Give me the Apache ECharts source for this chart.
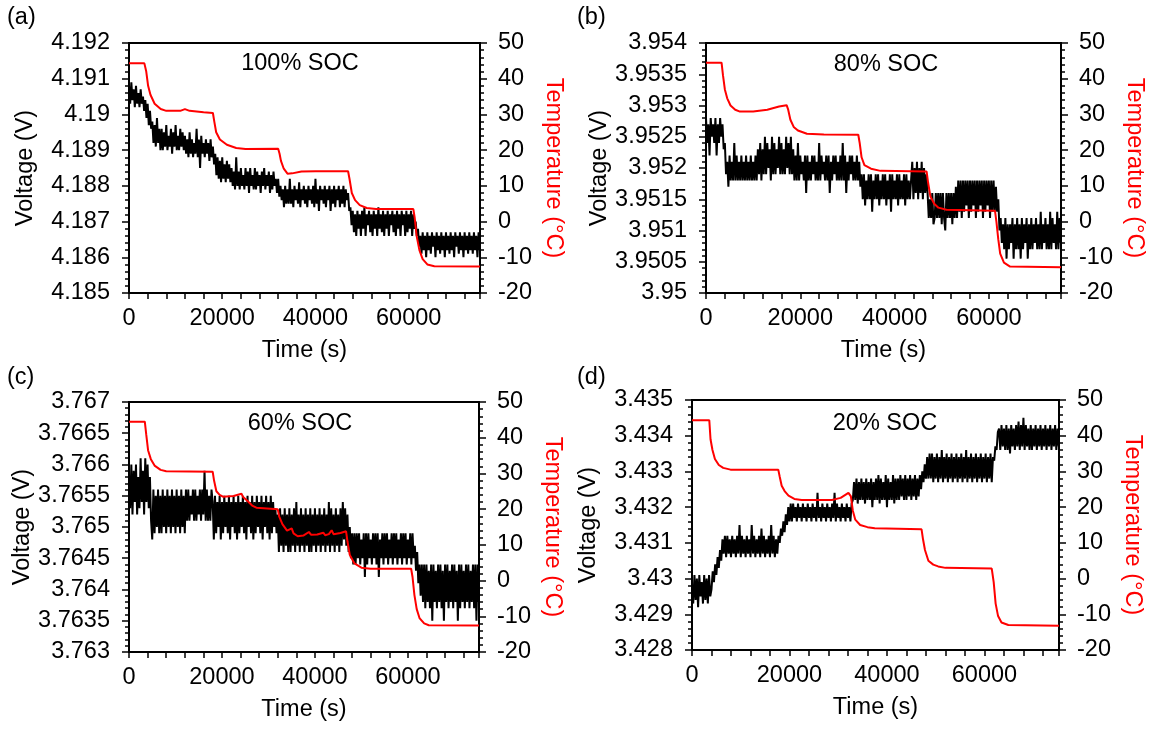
<!DOCTYPE html>
<html><head><meta charset="utf-8">
<script src="https://cdn.jsdelivr.net/npm/echarts/dist/echarts.min.js"></script>
<style>html,body{margin:0;padding:0;background:#fff}#c{width:1149px;height:729px}</style>
</head><body><div id="c"></div>
<script>
// ---------- data ----------
const panelLabels = ['(a)', '(b)', '(c)', '(d)'];
const socLabels = ['100% SOC', '80% SOC', '60% SOC', '20% SOC'];
const xTickLabels = [0, 20000, 40000, 60000];
const tempTicks = [-20, -10, 0, 10, 20, 30, 40, 50];

// time grid of voltage samples (s)
const timeV = [
  0,250,500,750,1000,1250,1500,1750,2000,2250,2500,2750,3000,3250,3500,3750,4000,4250,4500,4750,
  5000,5250,5500,5750,6000,6250,6500,6750,7000,7250,7500,7750,8000,8250,8500,8750,9000,9250,9500,9750,
  10000,10250,10500,10750,11000,11250,11500,11750,12000,12250,12500,12750,13000,13250,13500,13750,14000,14250,14500,14750,
  15000,15250,15500,15750,16000,16250,16500,16750,17000,17250,17500,17750,18000,18250,18500,18750,19000,19250,19500,19750,
  20000,20250,20500,20750,21000,21250,21500,21750,22000,22250,22500,22750,23000,23250,23500,23750,24000,24250,24500,24750,
  25000,25250,25500,25750,26000,26250,26500,26750,27000,27250,27500,27750,28000,28250,28500,28750,29000,29250,29500,29750,
  30000,30250,30500,30750,31000,31250,31500,31750,32000,32250,32500,32750,33000,33250,33500,33750,34000,34250,34500,34750,
  35000,35250,35500,35750,36000,36250,36500,36750,37000,37250,37500,37750,38000,38250,38500,38750,39000,39250,39500,39750,
  40000,40250,40500,40750,41000,41250,41500,41750,42000,42250,42500,42750,43000,43250,43500,43750,44000,44250,44500,44750,
  45000,45250,45500,45750,46000,46250,46500,46750,47000,47250,47500,47750,48000,48250,48500,48750,49000,49250,49500,49750,
  50000,50250,50500,50750,51000,51250,51500,51750,52000,52250,52500,52750,53000,53250,53500,53750,54000,54250,54500,54750,
  55000,55250,55500,55750,56000,56250,56500,56750,57000,57250,57500,57750,58000,58250,58500,58750,59000,59250,59500,59750,
  60000,60250,60500,60750,61000,61250,61500,61750,62000,62250,62500,62750,63000,63250,63500,63750,64000,64250,64500,64750,
  65000,65250,65500,65750,66000,66250,66500,66750,67000,67250,67500,67750,68000,68250,68500,68750,69000,69250,69500,69750,
  70000,70250,70500,70750,71000,71250,71500,71750,72000,72250,72500,72750,73000,73250,73500,73750,74000,74250,74500,74750,
  75000,75250
];

// (a) 100% SOC voltage (V)
const voltA = [
  4.1908,4.1903,4.1909,4.1904,4.1907,4.1902,4.1908,4.1903,4.1906,4.1902,4.1907,4.1903,4.1905,4.1901,
  4.1904,4.1899,4.1903,4.1897,4.1901,4.1896,
  4.1898,4.1892,4.1897,4.1891,4.1899,4.1892,4.1896,4.1890,
  4.1896,4.1890,4.1895,4.1891,4.1897,4.1890,4.1894,4.1891,4.1896,4.1889,4.1895,4.1891,4.1897,4.1890,4.1894,4.1890,4.1896,4.1891,4.1895,4.1890,
  4.1894,4.1889,4.1893,4.1888,4.1895,4.1889,4.1893,4.1888,4.1892,4.1889,4.1896,4.1888,4.1893,4.1885,4.1894,4.1889,4.1892,4.1888,4.1893,4.1889,4.1892,4.1887,4.1893,4.1888,
  4.1891,4.1886,4.1889,4.1883,4.1888,4.1882,4.1887,4.1881,4.1888,4.1882,4.1886,4.1881,4.1887,4.1882,4.1886,4.1881,
  4.1885,4.1880,4.1884,4.1879,4.1888,4.1880,4.1884,4.1879,4.1885,4.1880,4.1883,4.1879,4.1885,4.1880,4.1884,4.1878,4.1885,4.1880,4.1883,4.1879,
  4.1885,4.1879,4.1884,4.1880,4.1883,4.1878,4.1884,4.1880,4.1885,4.1879,4.1883,4.1880,4.1884,4.1878,4.1883,4.1879,4.1884,4.1880,4.1882,4.1878,
  4.1882,4.1877,
  4.1880,4.1876,4.1879,4.1874,4.1880,4.1875,4.1879,4.1875,4.1882,4.1875,4.1879,4.1874,4.1880,4.1876,4.1879,4.1875,4.1881,4.1874,4.1879,4.1876,
  4.1880,4.1875,4.1879,4.1874,4.1880,4.1876,4.1879,4.1875,4.1880,4.1874,4.1882,4.1875,4.1879,4.1873,4.1880,4.1876,4.1879,4.1875,4.1880,4.1874,
  4.1879,4.1876,4.1880,4.1873,4.1879,4.1875,4.1880,4.1874,4.1879,4.1876,4.1880,4.1874,4.1879,4.1875,4.1880,4.1874,4.1879,4.1876,4.1878,4.1873,
  4.1874,4.1869,4.1873,4.1867,4.1872,4.1866,4.1873,4.1868,4.1872,4.1866,4.1873,4.1868,4.1874,4.1866,4.1872,4.1869,4.1873,4.1867,4.1872,4.1866,
  4.1873,4.1868,4.1872,4.1866,4.1874,4.1868,4.1872,4.1867,4.1873,4.1866,4.1872,4.1868,4.1873,4.1866,4.1872,4.1869,4.1873,4.1867,4.1872,4.1866,
  4.1873,4.1868,4.1872,4.1866,4.1873,4.1869,4.1872,4.1866,4.1873,4.1867,4.1872,4.1868,4.1873,4.1866,4.1872,4.1868,
  4.1870,4.1866,4.1868,4.1863,
  4.1866,4.1861,4.1867,4.1862,4.1866,4.1860,4.1867,4.1862,4.1866,4.1861,4.1867,4.1863,4.1866,4.1860,4.1867,4.1862,4.1866,4.1861,4.1867,4.1862,
  4.1866,4.1860,4.1867,4.1862,4.1866,4.1861,4.1867,4.1862,4.1866,4.1860,4.1867,4.1863,4.1866,4.1861,4.1867,4.1862,4.1866,4.1860,4.1867,4.1862,
  4.1866,4.1861,4.1867,4.1862,4.1866,4.1861,4.1867,4.1862,4.1866,4.1860,4.1867,4.1862
];

// (b) 80% SOC voltage (V)
const voltB = [
  3.9528,3.9524,3.9527,3.9522,3.9528,3.9525,3.9527,3.9524,3.9528,3.9522,3.9527,3.9524,3.9528,3.9525,3.9527,3.9523,
  3.9524,3.9519,3.9521,3.9517,
  3.9522,3.9518,3.9521,3.9518,3.9524,3.9518,3.9522,3.9518,3.9521,3.9518,3.9522,3.9518,3.9521,3.9518,3.9522,3.9518,3.9521,3.9518,3.9522,3.9518,
  3.9521,3.9518,3.9522,3.9518,
  3.9523,3.9519,3.9524,3.9518,3.9523,3.9519,3.9525,3.9519,3.9524,3.9520,3.9523,3.9518,3.9525,3.9519,3.9524,3.9519,
  3.9523,3.9520,3.9525,3.9519,3.9524,3.9519,3.9523,3.9519,3.9525,3.9520,3.9524,3.9519,3.9525,3.9519,3.9523,3.9518,
  3.9522,3.9518,3.9524,3.9518,3.9522,3.9519,3.9521,3.9518,3.9522,3.9516,3.9522,3.9518,3.9521,3.9518,3.9522,3.9519,3.9522,3.9518,3.9521,3.9518,
  3.9524,3.9518,3.9522,3.9519,3.9521,3.9518,3.9522,3.9518,3.9522,3.9516,3.9521,3.9518,3.9522,3.9519,3.9522,3.9518,3.9521,3.9518,3.9522,3.9518,
  3.9524,3.9518,3.9522,3.9516,3.9521,3.9518,3.9522,3.9519,3.9522,3.9518,3.9521,3.9518,3.9522,3.9518,3.9521,3.9517,
  3.9519,3.9515,3.9519,3.9514,3.9518,3.9515,3.9519,3.9515,3.9519,3.9513,3.9518,3.9515,3.9519,3.9515,3.9519,3.9514,3.9518,3.9515,3.9519,3.9515,
  3.9519,3.9514,3.9518,3.9515,3.9519,3.9513,3.9519,3.9515,3.9518,3.9515,3.9519,3.9514,3.9519,3.9515,3.9518,3.9515,3.9519,3.9514,3.9519,3.9515,
  3.9518,3.9515,
  3.9515,3.9521,3.9515,3.9520,3.9516,3.9521,3.9515,3.9520,3.9516,3.9521,3.9515,3.9520,3.9516,3.9519,
  3.9516,3.9512,3.9515,3.9512,3.9516,3.9511,
  3.9512,3.9516,3.9512,3.9516,3.9512,3.9516,3.9511,3.9516,3.9512,3.9510,3.9516,3.9512,3.9516,3.9512,3.9516,3.9511,3.9516,3.9512,3.9517,3.9512,
  3.9518,3.9513,3.9518,3.9512,3.9518,3.9513,3.9518,3.9514,3.9518,3.9512,3.9518,3.9513,3.9518,3.9514,3.9518,3.9512,
  3.9518,3.9513,3.9518,3.9514,3.9518,3.9512,3.9518,3.9513,3.9518,3.9514,3.9518,3.9512,3.9518,3.9513,3.9518,3.9513,
  3.9517,3.9513,3.9515,3.9510,3.9512,3.9508,
  3.9511,3.9507,3.9512,3.95055,3.9511,3.9507,3.9511,3.9508,3.9512,3.95055,3.9511,3.9507,3.9512,3.9507,3.9511,3.95055,3.9512,3.9507,3.9511,3.9508,
  3.9512,3.95055,3.9511,3.9507,3.9512,3.9507,3.9511,3.9508,3.9512,3.9507,3.9511,3.9507,3.9513,3.9507,3.9511,3.9508,3.9512,3.9507,3.9511,3.9507,
  3.9513,3.9507,3.9512,3.9508,3.9511,3.9507,3.9513,3.9507,3.9512,3.9508
];

// (c) 60% SOC voltage (V)
const voltC = [
  3.7658,3.7653,3.7660,3.7652,3.7659,3.7654,3.7660,3.7652,3.7658,3.7653,3.7661,3.7654,3.7659,3.7652,3.7661,3.7654,3.7660,3.7653,
  3.7658,3.7651,
  3.7648,3.7656,3.7649,3.7655,3.7650,3.7656,3.7649,3.7655,3.7649,3.7656,3.7650,3.7655,3.7649,3.7656,3.7650,3.7655,3.7649,3.7656,3.7650,3.7655,
  3.7649,3.7656,3.7650,3.7655,3.7649,3.7656,3.7650,3.7655,3.7649,3.7656,
  3.7651,3.7656,3.7651,3.7655,3.7652,3.7656,3.7651,3.7656,3.7651,3.7655,3.7652,3.7656,3.7651,3.7656,3.7652,3.7659,3.7651,3.7656,3.7651,3.7655,
  3.7651,3.7656,
  3.7654,3.7648,3.7655,3.7649,3.7654,3.7650,3.7655,3.7648,3.7654,3.7649,3.7655,3.7650,3.7654,3.7649,3.7655,3.7648,3.7654,3.7650,3.7655,3.7649,
  3.7654,3.7648,3.7655,3.7649,3.7654,3.7650,3.7655,3.7649,3.7654,3.7648,3.7655,3.7650,3.7654,3.7649,3.7655,3.7648,3.7654,3.7649,3.7655,3.7650,
  3.7654,3.7649,3.7655,3.7648,3.7654,3.7650,3.7655,3.7649,3.7654,3.7648,3.7655,3.7649,3.7654,3.7650,3.7653,3.7649,
  3.7652,3.7646,3.7653,3.7647,3.7652,3.7646,3.7653,3.7647,3.7652,3.7646,3.7653,3.7646,3.7652,3.7647,3.7653,3.7646,3.7654,3.7647,3.7652,3.7646,
  3.7653,3.7647,3.7652,3.7646,3.7653,3.7647,3.7652,3.7646,3.7653,3.7646,3.7652,3.7647,3.7653,3.7646,3.7652,3.7647,3.7653,3.7646,3.7652,3.7647,
  3.7653,3.7646,3.7652,3.7647,3.7654,3.7646,3.7653,3.7647,3.7652,3.7646,3.7653,3.7647,3.7652,3.7646,3.7653,3.7647,3.7654,3.7648,3.7653,3.7647,
  3.7652,3.7646,3.7650,3.7645,3.7649,3.7644,
  3.7649,3.7644,3.7649,3.7645,3.7649,3.7644,3.7648,3.7645,3.7649,3.7642,3.7649,3.7644,3.7649,3.7645,3.7648,3.7644,3.7649,3.7645,3.7649,3.7644,
  3.7649,3.7642,3.7648,3.7645,3.7649,3.7644,3.7649,3.7645,3.7649,3.7644,3.7648,3.7645,3.7649,3.7644,3.7649,3.7645,3.7649,3.7644,3.7648,3.7645,
  3.7649,3.7644,3.7649,3.7645,3.7649,3.7644,3.7648,3.7645,3.7649,3.7644,3.7649,3.7645,
  3.7647,3.7643,3.7646,3.7641,3.7644,3.7639,3.7644,3.7638,
  3.7644,3.7637,3.7644,3.7638,3.7643,3.7637,3.7644,3.7635,3.7644,3.7638,3.7643,3.7637,3.7644,3.7638,3.7644,3.7637,3.7643,3.7635,3.7644,3.7638,
  3.7644,3.7637,3.7643,3.7638,3.7644,3.7637,3.7644,3.7638,3.7643,3.7635,3.7644,3.7637,3.7644,3.7638,3.7643,3.7637,3.7644,3.7638,3.7644,3.7637,
  3.7643,3.7638,3.7644,3.7637,3.7644,3.7635,3.7644,3.7638
];

// (d) 20% SOC voltage (V)
const voltD = [
  3.4298,3.4293,3.4301,3.4294,3.4300,3.4292,3.4301,3.4295,3.4299,3.4293,3.4301,3.4294,3.4300,3.4293,3.4301,3.4295,
  3.4297,3.4302,3.4299,3.4304,3.4301,3.4306,3.4303,3.4308,
  3.4305,3.4311,3.4307,3.4312,3.4306,3.4312,3.4307,3.4311,3.4306,3.4312,3.4307,3.4311,3.4306,3.4312,3.4307,3.4315,3.4306,3.4312,3.4307,3.4311,
  3.4306,3.4312,3.4307,3.4311,3.4306,3.4315,3.4307,3.4312,3.4306,3.4311,3.4307,3.4312,3.4306,3.4314,3.4307,3.4312,3.4306,3.4311,3.4307,3.4312,
  3.4306,3.4315,3.4307,3.4312,3.4306,3.4311,3.4307,3.4312,
  3.4310,3.4314,3.4312,3.4316,3.4313,3.4318,3.4315,3.4320,3.4316,3.4321,
  3.4316,3.4321,3.4317,3.4320,3.4316,3.4321,3.4317,3.4320,3.4316,3.4321,3.4317,3.4320,3.4316,3.4321,3.4317,3.4320,3.4316,3.4321,3.4317,3.4320,
  3.4316,3.4324,3.4317,3.4320,3.4316,3.4321,3.4317,3.4320,3.4316,3.4321,3.4317,3.4320,3.4316,3.4321,3.4317,3.4324,3.4316,3.4321,3.4317,3.4320,
  3.4316,3.4321,3.4317,3.4320,3.4316,3.4321,3.4317,3.4320,3.4316,3.4321,
  3.4322,3.4327,3.4322,3.4328,3.4321,3.4327,3.4322,3.4328,3.4322,3.4327,3.4321,3.4328,3.4322,3.4327,3.4322,3.4328,3.4320,3.4327,3.4322,3.4328,
  3.4322,3.4329,3.4321,3.4328,3.4322,3.4327,3.4322,3.4329,3.4320,3.4328,3.4322,3.4327,3.4322,3.4329,3.4321,3.4328,3.4322,3.4328,3.4322,3.4329,
  3.4323,3.4328,3.4322,3.4329,3.4322,3.4328,3.4323,3.4329,3.4322,3.4328,3.4323,3.4329,3.4322,3.4328,3.4323,3.4329,
  3.4325,3.4330,3.4327,3.4332,3.4328,3.4334,3.4328,3.4335,
  3.4328,3.4335,3.4327,3.4334,3.4328,3.4335,3.4327,3.4334,3.4328,3.4336,3.4327,3.4334,3.4328,3.4335,3.4327,3.4334,3.4328,3.4335,3.4327,3.4334,
  3.4328,3.4335,3.4327,3.4334,3.4328,3.4335,3.4327,3.4334,3.4328,3.4336,3.4327,3.4334,3.4328,3.4335,3.4327,3.4334,3.4328,3.4335,3.4327,3.4334,
  3.4328,3.4335,3.4327,3.4334,3.4328,3.4335,3.4327,3.4334,3.4328,3.4335,3.4327,3.4334,
  3.4333,3.4337,3.4336,3.4341,
  3.4342,3.4336,3.4343,3.4337,3.4342,3.4336,3.4343,3.4336,3.4342,3.4335,3.4343,3.4337,3.4342,3.4336,3.4343,3.4337,3.4344,3.4336,3.4343,3.4337,
  3.4345,3.4336,3.4343,3.4337,3.4342,3.4336,3.4343,3.4336,3.4342,3.4337,3.4343,3.4336,3.4342,3.4337,3.4343,3.4336,3.4342,3.4337,3.4343,3.4336,
  3.4342,3.4337,3.4343,3.4336,3.4342,3.4337,3.4343,3.4336,3.4342,3.4337
];

// temperature traces (s, °C)
const tempTimeA = [0,3300,3700,4100,4600,5500,6800,8000,11000,12000,13000,16000,18000,18300,18700,19500,21000,23000,25000,32000,32300,32600,33200,34000,35000,37000,40000,47000,47300,47800,48500,49500,51000,53000,61000,61300,61700,62300,63000,64000,65500,75300];
const tempA = [44.3,44.3,42,38,35.5,33,31.5,31,31,31.5,31,30.6,30.4,28,25,23,21.5,20.6,20.3,20.4,19,17,14.8,13.4,13.5,14,14.1,14.1,12,8,6,4.6,3.8,3.5,3.5,1,-4,-8,-10.5,-12,-12.5,-12.6];
const tempTimeB = [0,3300,3600,4000,4500,5200,6200,7200,10000,13000,15500,17100,17400,17900,18600,19500,21400,25000,32300,32600,33000,33600,35000,37000,46800,47100,47600,48400,49300,51000,61300,61600,62000,62400,63200,64500,75300];
const tempB = [44.5,44.5,41,37,34.5,32.5,31.3,30.8,30.8,31.3,32.2,32.6,31.5,28.5,26.5,25.5,24.6,24.4,24.3,22,18,15.8,14.8,14.2,14.0,11,7,5,3.9,3.3,3.0,0,-5,-9,-11.5,-12.6,-12.8];
const tempTimeC = [0,3400,3700,4100,4700,5500,6800,8000,18000,18300,18800,19500,20200,22500,24200,24500,25500,26500,27400,32000,32300,33000,34000,35000,35400,36300,37500,38700,39200,40500,41800,42200,43000,43600,44000,45500,46700,47000,47500,48500,50000,52000,60700,61000,61400,61900,62500,63500,64500,75300];
const tempC = [44.5,44.5,41,36.5,34,32.2,31,30.6,30.5,28,25,24,23.5,23.7,24.3,23.5,22.3,21,20.4,20,18,15.8,14,14.6,13.2,12.4,12.6,13.6,12.8,12.9,13.4,12.7,13.0,14.1,13.0,13.3,13.8,11,7.2,4.8,3.6,3.3,3.3,1,-4,-8,-10.5,-12,-12.5,-12.6];
const tempTimeD = [0,3550,3800,4200,4700,5500,6400,7900,17700,18000,18400,19000,19800,21000,22500,28700,30500,32100,32600,33000,33500,34500,36000,37500,47100,47400,47800,48500,49500,50500,52000,61500,61900,62300,62800,63500,64900,75300];
const tempD = [44.3,44.3,39,36,33.5,31.8,31,30.5,30.5,28.5,26,24.5,23.2,22.3,22,22,22.6,24,23,19,16.5,15,14.4,14.1,13.8,11,8,5,3.9,3.4,3,2.8,-1,-7,-10.5,-12.3,-13,-13.2];

// voltage axis ranges (tick labels follow from these)
const vMin = [4.185, 3.95, 3.763, 3.428];
const vMax = [4.192, 3.954, 3.767, 3.435];
const vStep = [0.001, 0.0005, 0.0005, 0.001];
const timeMax = 75300;

// ---------- layout / style ----------
const FONT = '"Liberation Sans", Arial, sans-serif';
const FS = 23.5;
const grids = [
  {left:129, top:43, width:351, height:250},
  {left:706, top:43, width:355, height:250},
  {left:129, top:402, width:350, height:250},
  {left:692, top:400, width:367, height:250}
];
const volts = [voltA, voltB, voltC, voltD];
const tTimes = [tempTimeA, tempTimeB, tempTimeC, tempTimeD];
const temps = [tempA, tempB, tempC, tempD];

const lineBlack = {color:'#000', width:2};
const tickStyle = {color:'#000', width:1.5};
const txt = {color:'#000', fontSize:FS, fontFamily:FONT};

const option = {
  animation:false,
  backgroundColor:'#fff',
  grid: grids.map(g => Object.assign({show:true, borderColor:'#000', borderWidth:2, backgroundColor:'transparent'}, g)),
  xAxis: [], yAxis: [], series: [], graphic: []
};

grids.forEach((g, i) => {
  option.xAxis.push({
    type:'value', gridIndex:i, min:0, max:timeMax, interval:4000,
    axisLine:{show:true, onZero:false, lineStyle:lineBlack},
    axisTick:{show:true, length:6, lineStyle:tickStyle},
    axisLabel:Object.assign({margin:14, formatter:v => xTickLabels.indexOf(v) >= 0 ? String(v) : ''}, txt),
    splitLine:{show:false},
    name:'Time (s)', nameLocation:'middle', nameGap:46, nameTextStyle:txt
  });
  option.yAxis.push({
    type:'value', gridIndex:i, position:'left', min:vMin[i], max:vMax[i], interval:vStep[i],
    axisLine:{show:true, onZero:false, lineStyle:lineBlack},
    axisTick:{show:true, length:7, lineStyle:tickStyle},
    minorTick:{show:true, splitNumber:5, length:4, lineStyle:tickStyle},
    axisLabel:Object.assign({margin:19}, txt),
    splitLine:{show:false}, minorSplitLine:{show:false},
    name:'Voltage (V)', nameLocation:'middle', nameRotate:90, nameGap:91, nameTextStyle:txt
  });
  option.yAxis.push({
    type:'value', gridIndex:i, position:'right', min:tempTicks[0], max:tempTicks[tempTicks.length-1], interval:10,
    axisLine:{show:true, onZero:false, lineStyle:lineBlack},
    axisTick:{show:true, length:7, lineStyle:tickStyle},
    minorTick:{show:true, splitNumber:5, length:4, lineStyle:tickStyle},
    axisLabel:Object.assign({margin:18}, txt),
    splitLine:{show:false}, minorSplitLine:{show:false},
    name:'Temperature (°C)', nameLocation:'middle', nameRotate:-90, nameGap:61,
    nameTextStyle:{color:'#ff0000', fontSize:FS, fontFamily:FONT}
  });
  option.series.push({
    type:'line', xAxisIndex:i, yAxisIndex:2*i, silent:true,
    data: timeV.map((t, k) => [t, volts[i][k]]),
    showSymbol:false, symbol:'none', sampling:null,
    lineStyle:{color:'#000', width:2}, z:2
  });
  option.series.push({
    type:'line', xAxisIndex:i, yAxisIndex:2*i+1, silent:true,
    data: tTimes[i].map((t, k) => [t, temps[i][k]]),
    showSymbol:false, symbol:'none',
    lineStyle:{color:'#ff0000', width:2}, z:3
  });
});

const titlePos = [[300,64],[886,65],[300,424],[885,424]];
const letterPos = [[7,18],[577,18],[7,378],[577,378]];
socLabels.forEach((s, i) => {
  option.graphic.push({type:'text', x:titlePos[i][0], y:titlePos[i][1], z:10,
    style:{text:s, fill:'#000', fontSize:FS, fontFamily:FONT, align:'center', verticalAlign:'middle'}});
  option.graphic.push({type:'text', x:letterPos[i][0], y:letterPos[i][1], z:10,
    style:{text:panelLabels[i], fill:'#000', fontSize:FS, fontFamily:FONT, align:'left', verticalAlign:'middle'}});
});

const chart = echarts.init(document.getElementById('c'), null, {renderer:'canvas'});
chart.setOption(option);
</script>
</body></html>
